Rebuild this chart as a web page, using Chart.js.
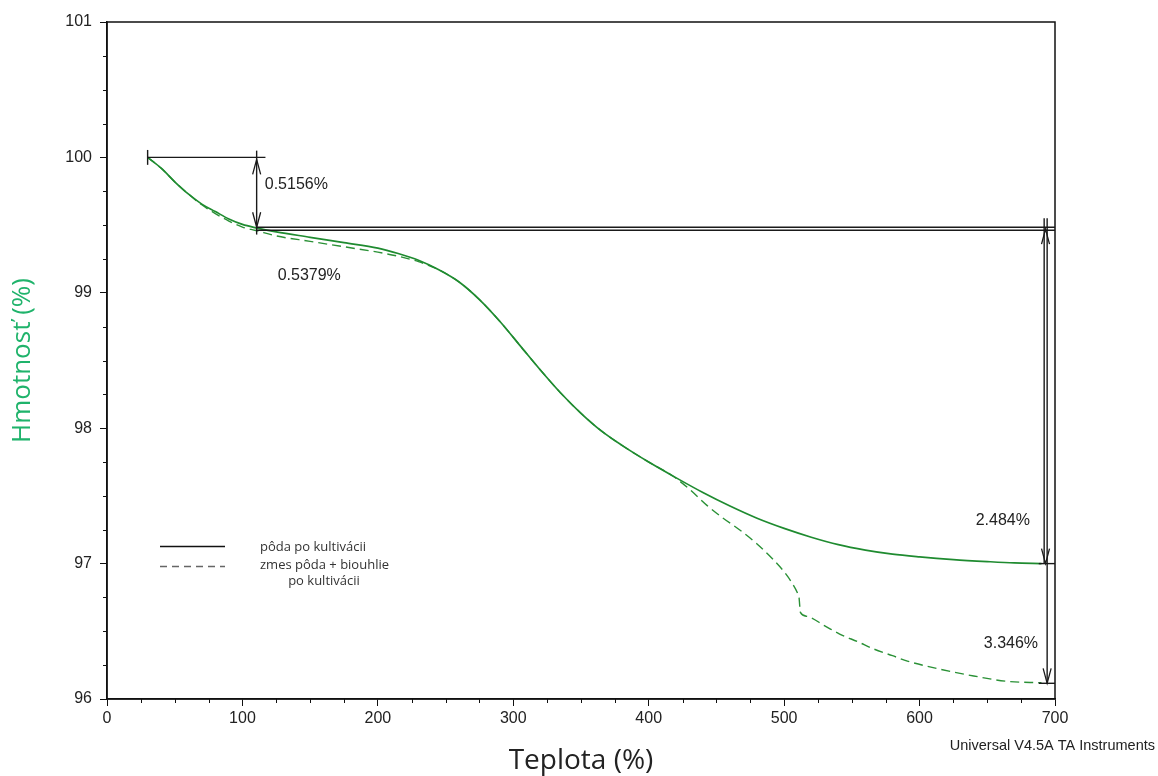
<!DOCTYPE html>
<html>
<head>
<meta charset="utf-8">
<script src="https://cdn.jsdelivr.net/npm/chart.js@4.4.1/dist/chart.umd.min.js"></script>
<style>
  html, body { margin: 0; padding: 0; background: #fff; }
</style>
</head>
<body>
<canvas id="tgaChart" width="1158" height="776"></canvas>
<script>
// TGA curves, temperature vs. remaining mass
const tempSolid = [30, 40, 50, 60, 70, 80, 90, 100, 110, 125, 150, 175, 200, 215, 230, 245, 260, 275, 290, 305, 320, 335, 350, 365, 380, 400, 420, 440, 460, 480, 500, 520, 540, 560, 580, 600, 625, 650, 670, 690];
const massSolid = [100.00, 99.92, 99.82, 99.73, 99.655, 99.60, 99.545, 99.505, 99.48, 99.45, 99.41, 99.37, 99.33, 99.29, 99.24, 99.17, 99.08, 98.95, 98.79, 98.61, 98.43, 98.26, 98.11, 97.98, 97.875, 97.75, 97.635, 97.525, 97.425, 97.335, 97.26, 97.195, 97.14, 97.10, 97.07, 97.05, 97.03, 97.015, 97.005, 97.00];

const tempMix = [30, 40, 50, 60, 70, 80, 90, 100, 110, 125, 150, 175, 200, 215, 230, 245, 260, 275, 290, 305, 320, 335, 350, 365, 380, 400, 418, 430, 443, 455, 467, 480, 492, 500, 505, 510, 511, 512, 517, 530, 541, 555, 566, 580, 591, 615, 640, 665, 690];
const massMix = [100.00, 99.92, 99.82, 99.73, 99.65, 99.585, 99.53, 99.485, 99.46, 99.42, 99.38, 99.34, 99.30, 99.27, 99.23, 99.17, 99.08, 98.95, 98.79, 98.61, 98.43, 98.26, 98.11, 97.98, 97.875, 97.75, 97.645, 97.55, 97.43, 97.335, 97.25, 97.145, 97.03, 96.94, 96.87, 96.78, 96.75, 96.64, 96.61, 96.54, 96.48, 96.42, 96.37, 96.32, 96.28, 96.22, 96.17, 96.13, 96.12];

const seriesNames = ['pôda po kultivácii', 'zmes pôda + biouhlie', 'po kultivácii'];

// step analysis marks (temperature, mass)
const measureLines = [
    [[30, 100], [117, 100]],
    [[30, 100.055], [30, 99.945]],
    [[110.5, 100.05], [110.5, 99.43]],
    [[110.5, 99.484], [700, 99.484]],
    [[110.5, 99.462], [700, 99.462]],
    [[692, 99.55], [692, 97.0]],
    [[694.2, 99.55], [694.2, 96.116]],
    [[688, 97.0], [700, 97.0]],
    [[688, 96.116], [700, 96.116]]
];
const measureArrows = [
    [110.5, 99.985, -1],
    [110.5, 99.484, 1],
    [693, 99.47, -1],
    [693, 97.0, 1],
    [694.2, 96.116, 1]
];
const measureLabels = [
    ['0.5156%', 116.5, 99.80, 'left'],
    ['0.5379%', 126, 99.13, 'left'],
    ['2.484%', 681.5, 97.32, 'right'],
    ['3.346%', 687.5, 96.41, 'right']
];

const toPoints = (xs, ys) => xs.map((t, i) => ({x: t, y: ys[i]}));

const overlay = {
    id: 'overlay',
    afterDatasetsDraw(chart) {
        const {ctx, chartArea: a, scales: {x, y}} = chart;
        ctx.save();

        // frame
        ctx.strokeStyle = '#111';
        ctx.lineWidth = 1.5;
        ctx.strokeRect(a.left, a.top, a.right - a.left, a.bottom - a.top);

        // minor ticks
        ctx.lineWidth = 1;
        for (let v = 25; v < 700; v += 25) {
            if (v % 100 === 0) continue;
            const px = Math.round(x.getPixelForValue(v)) + 0.5;
            ctx.beginPath(); ctx.moveTo(px, a.bottom); ctx.lineTo(px, a.bottom + 4); ctx.stroke();
        }
        for (let v = 96.25; v < 101; v += 0.25) {
            if (Math.abs(v - Math.round(v)) < 0.01) continue;
            const py = Math.round(y.getPixelForValue(v)) + 0.5;
            ctx.beginPath(); ctx.moveTo(a.left - 4, py); ctx.lineTo(a.left, py); ctx.stroke();
        }

        // step lines
        ctx.strokeStyle = '#1a1a1a';
        ctx.lineWidth = 1.4;
        measureLines.forEach(([[x1, y1], [x2, y2]]) => {
            ctx.beginPath();
            ctx.moveTo(x.getPixelForValue(x1), y.getPixelForValue(y1));
            ctx.lineTo(x.getPixelForValue(x2), y.getPixelForValue(y2));
            ctx.stroke();
        });

        // arrow heads
        ctx.lineWidth = 1.3;
        measureArrows.forEach(([t, m, dir]) => {
            const px = x.getPixelForValue(t), py = y.getPixelForValue(m);
            ctx.beginPath();
            ctx.moveTo(px - 4, py - dir * 15);
            ctx.lineTo(px, py);
            ctx.lineTo(px + 4, py - dir * 15);
            ctx.stroke();
        });

        // step labels
        ctx.fillStyle = '#222';
        ctx.font = '16px "Liberation Sans", Arial, sans-serif';
        ctx.textBaseline = 'middle';
        measureLabels.forEach(([txt, t, m, align]) => {
            ctx.textAlign = align;
            ctx.fillText(txt, x.getPixelForValue(t), y.getPixelForValue(m));
        });

        // legend
        ctx.strokeStyle = '#111';
        ctx.lineWidth = 1.3;
        ctx.beginPath(); ctx.moveTo(160, 546.5); ctx.lineTo(225, 546.5); ctx.stroke();
        ctx.strokeStyle = '#666';
        ctx.setLineDash([7, 5]);
        ctx.beginPath(); ctx.moveTo(160, 566.5); ctx.lineTo(225, 566.5); ctx.stroke();
        ctx.setLineDash([]);
        ctx.fillStyle = '#333';
        ctx.font = '13px "Open Sans", sans-serif';
        ctx.textAlign = 'left';
        ctx.fillText(seriesNames[0], 260, 547);
        ctx.fillText(seriesNames[1], 260, 565);
        ctx.textAlign = 'center';
        ctx.fillText(seriesNames[2], 324, 581);

        // instrument footer
        ctx.fillStyle = '#222';
        ctx.font = '14.5px "Liberation Sans", Arial, sans-serif';
        ctx.textAlign = 'right';
        ctx.fillText('Universal V4.5A TA Instruments', 1155, 746);

        ctx.restore();
    }
};

Chart.defaults.font.family = '"Liberation Sans", Arial, sans-serif';
Chart.defaults.color = '#222';

const ctx = document.getElementById('tgaChart').getContext('2d');
const tgaChart = new Chart(ctx, {
    type: 'line',
    data: {
        datasets: [{
            label: seriesNames[0],
            data: toPoints(tempSolid, massSolid),
            borderColor: '#1f8b30',
            borderWidth: 1.7,
            pointRadius: 0,
            cubicInterpolationMode: 'monotone',
            fill: false
        }, {
            label: seriesNames[1] + ' ' + seriesNames[2],
            data: toPoints(tempMix, massMix),
            borderColor: '#2a9136',
            borderWidth: 1.4,
            borderDash: [9, 5],
            pointRadius: 0,
            cubicInterpolationMode: 'monotone',
            fill: false
        }]
    },
    options: {
        responsive: false,
        animation: false,
        layout: {padding: {top: 22, right: 103, bottom: 0, left: 0}},
        plugins: {legend: {display: false}, tooltip: {enabled: false}},
        scales: {
            x: {
                type: 'linear',
                min: 0,
                max: 700,
                afterFit: (scale) => { scale.height = 77; },
                ticks: {stepSize: 100, font: {size: 16}, color: '#222', padding: 3, maxRotation: 0},
                grid: {drawOnChartArea: false, tickLength: 7, color: '#111'},
                border: {display: true, color: '#111', width: 1.5},
                title: {
                    display: true,
                    text: 'Teplota (%)',
                    color: '#222',
                    font: {family: '"Open Sans", sans-serif', size: 28},
                    padding: {top: 0, bottom: -2}
                }
            },
            y: {
                min: 96,
                max: 101,
                afterFit: (scale) => { scale.width = 107; },
                ticks: {stepSize: 1, font: {size: 16}, color: '#222', padding: 8},
                grid: {drawOnChartArea: false, tickLength: 7, color: '#111'},
                border: {display: true, color: '#111', width: 1.5},
                title: {
                    display: true,
                    text: 'Hmotnosť (%)',
                    color: '#1fb36b',
                    font: {family: '"Open Sans", sans-serif', size: 26},
                    padding: {top: 7, bottom: 0}
                }
            }
        }
    },
    plugins: [overlay]
});
</script>
</body>
</html>
